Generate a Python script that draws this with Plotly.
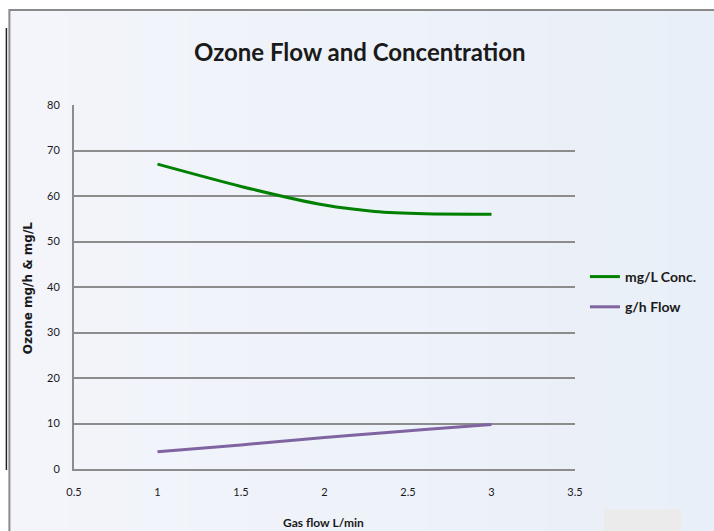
import plotly.graph_objects as go

# Data
flow_lpm = [1, 1.5, 2, 2.3, 2.6, 3]
conc_mgL = [67, 62.1, 58, 56.6, 56.1, 56]
flow_gh = [3.8, 5.3, 6.9, 7.8, 8.7, 9.8]
x_ticks = [0.5, 1, 1.5, 2, 2.5, 3, 3.5]
y_ticks = [0, 10, 20, 30, 40, 50, 60, 70, 80]

W, H = 714, 531
# plot area in screen pixels
L, R, T, B = 74, 578, 105, 469


def px(sx):
    return (sx - L) / (R - L)


def py(sy):
    return (B - sy) / (B - T)


FONT = "Lato"
TXT = "#1a1a1a"

fig = go.Figure()
fig.add_trace(go.Scatter(x=flow_lpm, y=conc_mgL, mode="lines", name="<b>mg/L Conc.</b>",
                         legendgroup="a",
                         line=dict(color="#008000", width=3, shape="spline", smoothing=0.6)))
fig.add_trace(go.Scatter(x=flow_lpm, y=flow_gh, mode="lines", name="<b>g/h Flow</b>",
                         legendgroup="b",
                         line=dict(color="#8064a2", width=3, shape="spline", smoothing=0.6)))

# subtle left-to-right background gradient of the chart area
shapes = []
n = 12
x_start, x_end = 9, 730
c0 = (243, 245, 250)
c1 = (233, 239, 248)
for i in range(n):
    a = x_start + (x_end - x_start) * i / n
    b = x_start + (x_end - x_start) * (i + 1) / n
    t = i / (n - 1)
    col = "rgb(%d,%d,%d)" % tuple(round(c0[k] + (c1[k] - c0[k]) * t) for k in range(3))
    shapes.append(dict(type="rect", xref="paper", yref="paper", x0=px(a), x1=px(b + 1),
                       y0=py(545), y1=py(10), fillcolor=col, line=dict(width=0), layer="below"))
shapes += [
    dict(type="rect", xref="paper", yref="paper", x0=px(9), x1=px(730), y0=py(545), y1=py(10),
         fillcolor="rgba(0,0,0,0)", line=dict(color="#8a8a8a", width=2), layer="below"),
    dict(type="line", xref="paper", yref="paper", x0=px(6), x1=px(6), y0=py(470), y1=py(28),
         line=dict(color="#222222", width=1.5)),
    dict(type="rect", xref="paper", yref="paper", x0=px(607), x1=px(685), y0=py(540), y1=py(509),
         fillcolor="#ebebeb", line=dict(width=0), layer="below"),
]

annotations = [
    dict(text="<b>Ozone Flow and Concentration</b>", xref="paper", yref="paper",
         x=px(362), y=py(51), showarrow=False, font=dict(family=FONT, size=24, color=TXT),
         xanchor="center", yanchor="middle"),
    dict(text="<b>Ozone mg/h & mg/L</b>", xref="paper", yref="paper", textangle=-90,
         x=px(28), y=py(288), showarrow=False, font=dict(family="DejaVu Sans", size=12, color=TXT),
         xanchor="center", yanchor="middle"),
    dict(text="<b>Gas flow L/min</b>", xref="paper", yref="paper",
         x=px(325), y=py(513), showarrow=False, font=dict(family=FONT, size=12, color=TXT),
         xanchor="center", yanchor="top"),
]

fig.update_layout(
    width=W, height=H,
    margin=dict(l=L, r=W - R, t=T, b=H - B, pad=0),
    paper_bgcolor="white",
    plot_bgcolor="rgba(0,0,0,0)",
    shapes=shapes,
    annotations=annotations,
    showlegend=True,
    legend=dict(x=px(588), y=py(261), xanchor="left", yanchor="top",
                bgcolor="rgba(0,0,0,0)", font=dict(family=FONT, size=14, color=TXT),
                itemwidth=30, tracegroupgap=9),
    font=dict(family=FONT, color=TXT),
)
fig.update_xaxes(range=[0.5, 3.5], tickvals=x_ticks, ticktext=[str(v) for v in x_ticks],
                 showgrid=False, zeroline=False, showline=True, linecolor="#8c8c8c", linewidth=2,
                 ticks="", tickfont=dict(family=FONT, size=11, color=TXT),
                 ticklabelstandoff=12)
fig.update_yaxes(range=[0, 80], tickvals=y_ticks, showgrid=True, gridcolor="#8c8c8c", gridwidth=2,
                 zeroline=False, showline=True, linecolor="#8c8c8c", linewidth=2, ticks="",
                 tickfont=dict(family=FONT, size=11, color=TXT), ticklabelstandoff=10)

fig.write_html("out.html", config={"displayModeBar": False},
               post_script="document.body.style.margin='0';document.body.style.overflow='hidden';")
